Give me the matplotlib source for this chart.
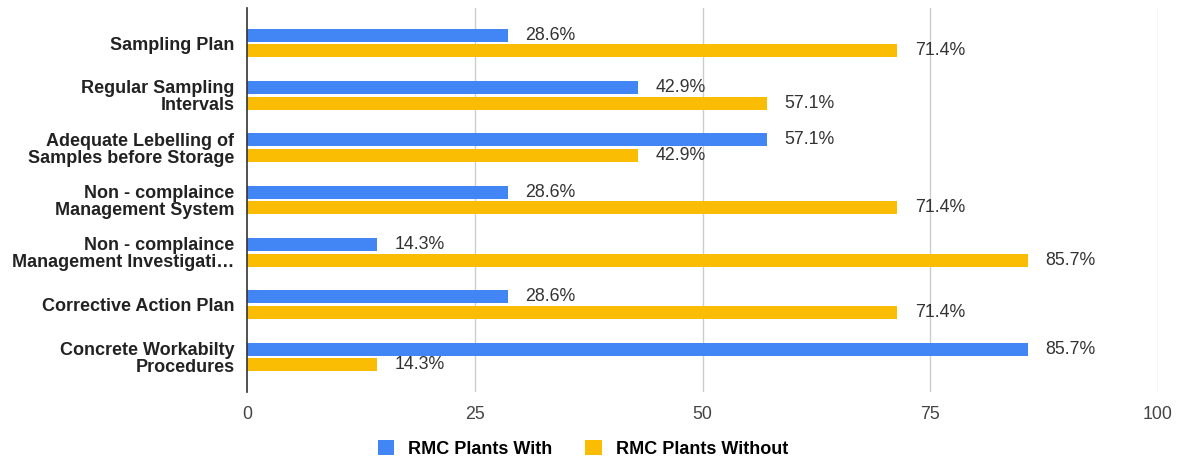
import numpy as np
import matplotlib.pyplot as plt

categories = [
    "Sampling Plan",
    "Regular Sampling\nIntervals",
    "Adequate Lebelling of\nSamples before Storage",
    "Non - complaince\nManagement System",
    "Non - complaince\nManagement Investigati\u2026",
    "Corrective Action Plan",
    "Concrete Workabilty\nProcedures",
]
with_vals = [28.6, 42.9, 57.1, 28.6, 14.3, 28.6, 85.7]
without_vals = [71.4, 57.1, 42.9, 71.4, 85.7, 71.4, 14.3]
series_names = ["RMC Plants With", "RMC Plants Without"]
xticks = [0, 25, 50, 75, 100]

blue = "#4285F4"
yellow = "#FBBC04"

plt.rcParams['font.family'] = ['Liberation Sans', 'DejaVu Sans']

fig = plt.figure(figsize=(11.82, 4.61), dpi=100)
ax = fig.add_axes([247 / 1182, 1 - 392 / 461, (1158 - 247) / 1182, (392 - 8) / 461])

y = np.arange(len(categories))
h = 0.25
b1 = ax.barh(y - 0.15, with_vals, height=h, color=blue, label=series_names[0], zorder=3)
b2 = ax.barh(y + 0.15, without_vals, height=h, color=yellow, label=series_names[1], zorder=3)

for bars, vals in ((b1, with_vals), (b2, without_vals)):
    for rect, v in zip(bars, vals):
        ax.text(v + 1.9, rect.get_y() + rect.get_height() / 2, f"{v:.1f}%",
                va="center", ha="left", fontsize=12.8, color="#333333")

ax.set_xlim(0, 100)
ax.set_ylim(6.67, -0.67)
ax.set_xticks(xticks)
ax.set_xticklabels([str(t) for t in xticks], fontsize=12.8, color="#444444")
ax.set_yticks(y)
ax.set_yticklabels(categories, fontsize=13, fontweight="bold", color="#222222",
                   linespacing=1.0)
ax.tick_params(axis="both", length=0)
ax.tick_params(axis="x", pad=10)
ax.tick_params(axis="y", pad=9)

for t in xticks[1:]:
    ax.axvline(t, color="#cccccc", lw=1, zorder=1)

for s in ("top", "right", "bottom"):
    ax.spines[s].set_visible(False)
ax.spines["left"].set_color("#333333")
ax.spines["left"].set_linewidth(1.2)
ax.spines["left"].set_zorder(4)

leg = fig.legend(handles=[b1, b2], labels=series_names, loc="center",
                 bbox_to_anchor=(583 / 1182, 1 - 449 / 461), ncol=2, frameon=False,
                 prop={"weight": "bold", "size": 13}, handlelength=0.9,
                 handleheight=0.9, columnspacing=1.8, handletextpad=0.8)

fig.savefig("out.png", dpi=100)
